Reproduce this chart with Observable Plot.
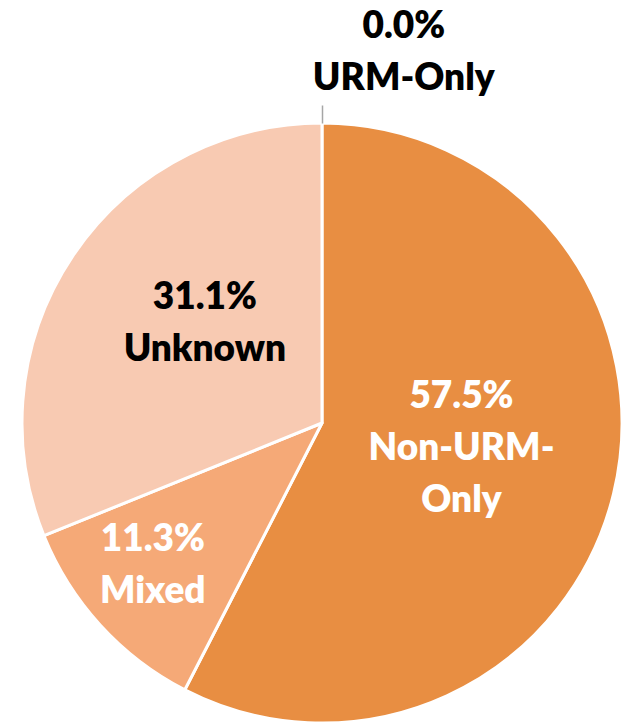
<!DOCTYPE html>
<html><head><meta charset="utf-8">
<script src="https://cdn.jsdelivr.net/npm/d3@7"></script>
<script src="https://cdn.jsdelivr.net/npm/@observablehq/plot@0.6"></script>
<style>body{margin:0;background:#fff}</style>
</head><body><div id="chart"></div>
<script>
// ---- data ----
const categories = ["URM-Only", "Non-URM-Only", "Mixed", "Unknown"];
const shares = [0.0, 57.5, 11.3, 31.1];
const percentLabels = ["0.0%", "57.5%", "11.3%", "31.1%"];
const nameLabels = ["URM-Only", "Non-URM-\nOnly", "Mixed", "Unknown"];

// ---- styles / layout ----
const sliceColors = ["#E88E42", "#E88E42", "#F5A977", "#F8CAB2"];
const labelColors = ["#000000", "#ffffff", "#ffffff", "#000000"];
const labelRadius = [1.282, 0.468, 0.727, 0.525];   // fraction of pie radius
const labelShiftDeg = [12.2, -5.4, 3.5, 7.7];      // nudge from slice mid-angle

const rows = categories.map((c, i) => ({
  category: c, value: shares[i],
  label: percentLabels[i] + "\n" + nameLabels[i],
  fill: sliceColors[i], ink: labelColors[i],
  k: labelRadius[i], shift: labelShiftDeg[i]
}));
const arcs = d3.pie().sort(null).value(d => d.value)(rows);
const labelData = arcs.map(a => {
  const m = (a.startAngle + a.endAngle) / 2 + a.data.shift * Math.PI / 180;
  return {label: a.data.label, ink: a.data.ink, lx: a.data.k * Math.sin(m), ly: a.data.k * Math.cos(m)};
});
const leader = arcs.filter(a => a.value === 0).map(a => ({
  x1: Math.sin(a.startAngle), y1: Math.cos(a.startAngle),
  x2: 1.06 * Math.sin(a.startAngle), y2: 1.06 * Math.cos(a.startAngle)
}));

function slices(index, scales) {
  const cx = scales.x(0), cy = scales.y(0), r = scales.x(1) - cx;
  const g = d3.create("svg:g").attr("transform", `translate(${cx},${cy})`);
  const arc = d3.arc().innerRadius(0).outerRadius(r);
  g.selectAll("path").data(arcs.filter(a => a.value > 0)).join("path")
    .attr("d", arc).attr("fill", a => a.data.fill)
    .attr("stroke", "#fff").attr("stroke-width", 3).attr("stroke-linejoin", "round");
  return g.node();
}

const chart = Plot.plot({
  width: 624, height: 725,
  margin: 0,
  x: {domain: [-1, 1], range: [22, 622], axis: null},
  y: {domain: [-1, 1], range: [723, 123], axis: null},
  color: {type: "identity"},
  style: {background: "#fff"},
  marks: [
    slices,
    Plot.link(leader, {x1: "x1", y1: "y1", x2: "x2", y2: "y2", stroke: "#A6A6A6", strokeWidth: 1.5}),
    Plot.text(labelData, {
      x: "lx", y: "ly", text: "label", fill: "ink",
      fontSize: 37, fontWeight: 800, fontFamily: "Lato", lineHeight: 1.4,
      textAnchor: "middle"
    })
  ]
});
document.getElementById("chart").append(chart);
</script>
</body></html>
